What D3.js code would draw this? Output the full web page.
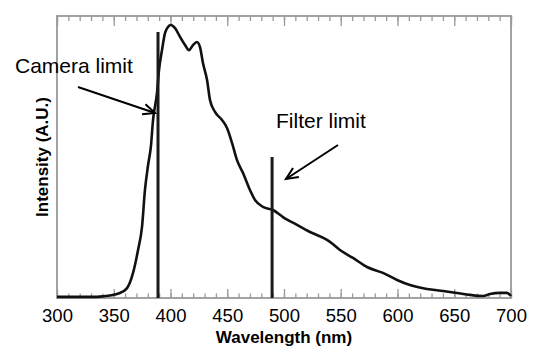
<!DOCTYPE html>
<html>
<head>
<meta charset="utf-8">
<script src="https://cdn.jsdelivr.net/npm/d3@7"></script>
<style>
  body { margin: 0; background: #fff; }
  svg { font-family: "Liberation Sans", Arial, sans-serif; }
</style>
</head>
<body>
<div id="chart"></div>
<script>
// emission spectrum (intensity in arbitrary units, 0..1 = frame height)
const wavelengths = [300, 334, 338, 355.5, 361.7, 367, 371.4, 374.9, 377.5, 380.2, 382.8, 384.6, 388.1, 389.9,
  392.5, 395.2, 397.8, 400.4, 404, 408.4, 412.8, 416.3, 419.8, 423.3, 426, 428.6, 432.2, 434.8, 439.2,
  445.4, 449.8, 454.2, 458.6, 463.9, 470, 474.4, 481.5, 490.3, 499.1, 511.5, 522.9, 537.9, 540.5,
  549.3, 560.8, 573.1, 587.2, 599.6, 611, 626, 640.1, 652.4, 663.9, 675.3, 681.5, 690.3, 696.5, 700];
const intensity = [0.004, 0.004, 0.005, 0.018, 0.035, 0.089, 0.170, 0.252, 0.383, 0.470, 0.540, 0.631, 0.727, 0.809,
  0.879, 0.940, 0.961, 0.968, 0.957, 0.926, 0.897, 0.879, 0.897, 0.908, 0.890, 0.833, 0.773, 0.702, 0.660,
  0.631, 0.603, 0.550, 0.489, 0.443, 0.383, 0.348, 0.323, 0.312, 0.287, 0.259, 0.234, 0.206, 0.199,
  0.170, 0.142, 0.110, 0.089, 0.064, 0.046, 0.032, 0.025, 0.018, 0.011, 0.007, 0.014, 0.018, 0.018, 0.007];

const majorTicks = [300, 350, 400, 450, 500, 550, 600, 650, 700];
const minorTicks = d3.range(300, 701, 10);

// limit lines: [wavelength, top intensity]
const limits = [
  {name: "Camera limit", wl: 389, top: 0.943},
  {name: "Filter limit", wl: 489.5, top: 0.5}
];

const W = 539, H = 354;
const margin = {top: 16, right: 28, bottom: 56, left: 57};
const width = W - margin.left - margin.right;
const height = H - margin.top - margin.bottom;

const svg = d3.select("#chart").append("svg")
  .attr("width", W)
  .attr("height", H);

const g = svg.append("g")
  .attr("transform", `translate(${margin.left},${margin.top})`);

const x = d3.scaleLinear().domain([300, 700]).range([0, width]);
const y = d3.scaleLinear().domain([0, 1]).range([height, 0]);

const frameColor = "#999";

// bottom axis: labels + major ticks pointing in
const xAxisG = g.append("g")
  .attr("transform", `translate(0,${height})`)
  .call(d3.axisBottom(x).tickValues(majorTicks).tickSizeInner(-9).tickSizeOuter(0).tickPadding(11));
xAxisG.select(".domain").remove();
xAxisG.selectAll(".tick line").attr("stroke", frameColor).attr("stroke-width", 1.3);
xAxisG.selectAll(".tick text")
  .attr("font-size", "18.5px")
  .attr("fill", "#000")
  .attr("font-family", "'Liberation Sans', Arial, sans-serif");

const xMinorG = g.append("g")
  .attr("transform", `translate(0,${height})`)
  .call(d3.axisBottom(x).tickValues(minorTicks).tickSizeInner(-4.5).tickSizeOuter(0).tickFormat(""));
xMinorG.select(".domain").remove();
xMinorG.selectAll(".tick line").attr("stroke", frameColor).attr("stroke-width", 1.3);

// top axis: ticks only, pointing down
const topMajor = g.append("g")
  .call(d3.axisTop(x).tickValues(majorTicks).tickSizeInner(-10).tickSizeOuter(0).tickFormat(""));
topMajor.select(".domain").remove();
topMajor.selectAll(".tick line").attr("stroke", frameColor).attr("stroke-width", 1.3);

const topMinor = g.append("g")
  .call(d3.axisTop(x).tickValues(minorTicks).tickSizeInner(-5).tickSizeOuter(0).tickFormat(""));
topMinor.select(".domain").remove();
topMinor.selectAll(".tick line").attr("stroke", frameColor).attr("stroke-width", 1.3);

// frame
g.append("rect")
  .attr("x", 0).attr("y", 0)
  .attr("width", width).attr("height", height)
  .attr("fill", "none")
  .attr("stroke", frameColor)
  .attr("stroke-width", 1.8);

// spectrum
const line = d3.line()
  .x((d, i) => x(wavelengths[i]))
  .y(d => y(d))
  .curve(d3.curveMonotoneX);

g.append("path")
  .datum(intensity)
  .attr("d", line)
  .attr("fill", "none")
  .attr("stroke", "#111")
  .attr("stroke-width", 2.6)
  .attr("stroke-linejoin", "round");

// limit lines
g.selectAll(".limit")
  .data(limits)
  .join("line")
  .attr("class", "limit")
  .attr("x1", d => x(d.wl)).attr("x2", d => x(d.wl))
  .attr("y1", d => y(d.top)).attr("y2", height)
  .attr("stroke", "#1a1a1a")
  .attr("stroke-width", 3);

// annotations (page coordinates)
svg.append("text")
  .attr("x", 15).attr("y", 73)
  .attr("font-size", "21px")
  .text("Camera limit");

svg.append("text")
  .attr("x", 276).attr("y", 128)
  .attr("font-size", "21px")
  .text("Filter limit");

function arrow(x1, y1, x2, y2) {
  const a = Math.atan2(y2 - y1, x2 - x1);
  const len = 13, spread = 0.42;
  svg.append("line")
    .attr("x1", x1).attr("y1", y1).attr("x2", x2).attr("y2", y2)
    .attr("stroke", "#000").attr("stroke-width", 2);
  svg.append("path")
    .attr("d", `M${x2 - len * Math.cos(a - spread)},${y2 - len * Math.sin(a - spread)}L${x2},${y2}L${x2 - len * Math.cos(a + spread)},${y2 - len * Math.sin(a + spread)}`)
    .attr("fill", "none").attr("stroke", "#000").attr("stroke-width", 2);
}
arrow(78, 87, 155, 113);
arrow(338, 145, 286, 179);

// axis titles
svg.append("text")
  .attr("x", margin.left + width / 2).attr("y", 343)
  .attr("text-anchor", "middle")
  .attr("font-size", "17px")
  .attr("font-weight", "bold")
  .text("Wavelength (nm)");

svg.append("text")
  .attr("transform", `translate(48,${margin.top + height / 2}) rotate(-90)`)
  .attr("text-anchor", "middle")
  .attr("font-size", "17px")
  .attr("font-weight", "bold")
  .text("Intensity (A.U.)");
</script>
</body>
</html>
